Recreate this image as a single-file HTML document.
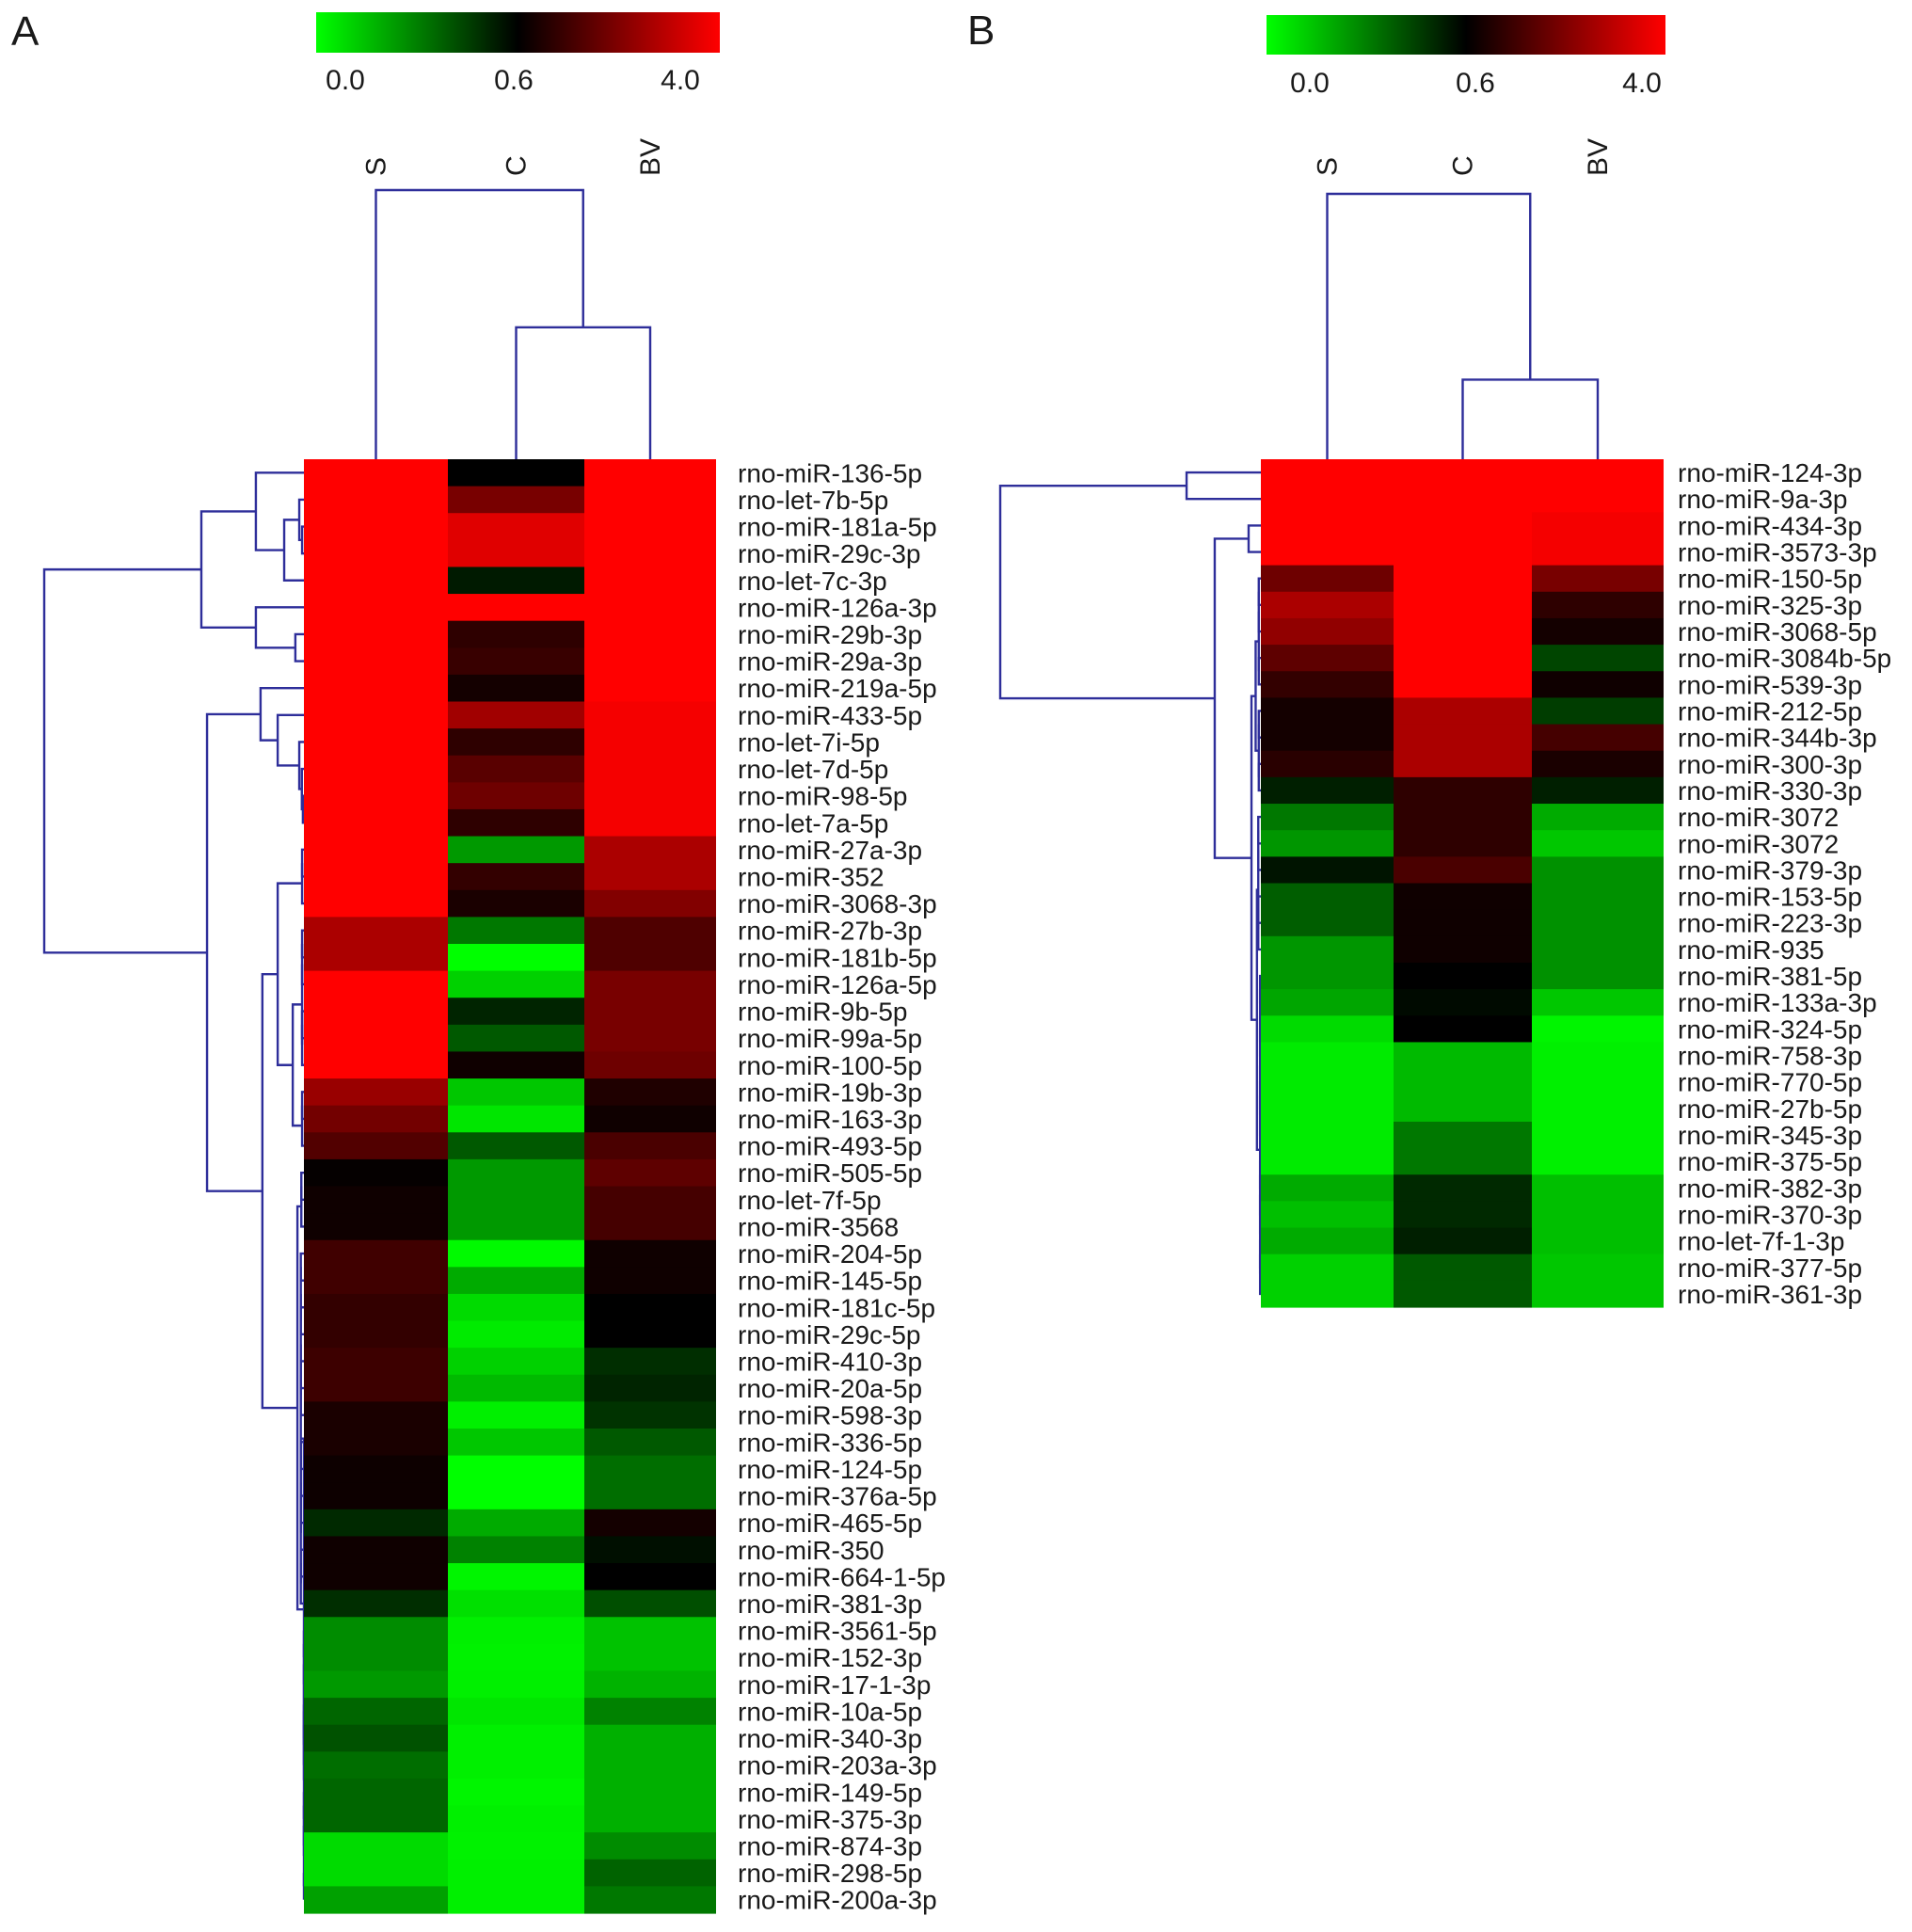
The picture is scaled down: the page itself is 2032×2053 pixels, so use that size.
<!DOCTYPE html>
<html><head><meta charset="utf-8">
<style>
html,body{margin:0;padding:0;background:#fff;}
svg{display:block;}
text{font-family:"Liberation Sans",Arial,sans-serif;fill:#1a1a1a;}
</style></head>
<body>
<svg id="fig" width="2032" height="2053" viewBox="0 0 2032 2053" xmlns="http://www.w3.org/2000/svg">
<defs>
<linearGradient id="cb" x1="0" x2="1" y1="0" y2="0">
<stop offset="0" stop-color="#00ff00"/><stop offset="0.5" stop-color="#000000"/><stop offset="1" stop-color="#ff0000"/>
</linearGradient>
</defs>
<g>
<text x="12" y="48" font-size="44">A</text>
<rect x="336" y="13" width="429" height="43" fill="url(#cb)"/>
<text x="367" y="95" font-size="30" text-anchor="middle">0.0</text>
<text x="546" y="95" font-size="30" text-anchor="middle">0.6</text>
<text x="723" y="95" font-size="30" text-anchor="middle">4.0</text>
<g id="gA"></g>
</g>
<g>
<text x="1028" y="47" font-size="44">B</text>
<rect x="1346" y="16" width="424" height="42" fill="url(#cb)"/>
<text x="1392" y="98" font-size="30" text-anchor="middle">0.0</text>
<text x="1568" y="98" font-size="30" text-anchor="middle">0.6</text>
<text x="1745" y="98" font-size="30" text-anchor="middle">4.0</text>
<g id="gB"></g>
</g>
</svg>
<script>
// ---- data (color-scale position: -1 green, 0 black, 1 red) ----
const columns = ["S","C","BV"];
const rowsA = ["rno-miR-136-5p","rno-let-7b-5p","rno-miR-181a-5p","rno-miR-29c-3p","rno-let-7c-3p","rno-miR-126a-3p","rno-miR-29b-3p","rno-miR-29a-3p","rno-miR-219a-5p","rno-miR-433-5p","rno-let-7i-5p","rno-let-7d-5p","rno-miR-98-5p","rno-let-7a-5p","rno-miR-27a-3p","rno-miR-352","rno-miR-3068-3p","rno-miR-27b-3p","rno-miR-181b-5p","rno-miR-126a-5p","rno-miR-9b-5p","rno-miR-99a-5p","rno-miR-100-5p","rno-miR-19b-3p","rno-miR-163-3p","rno-miR-493-5p","rno-miR-505-5p","rno-let-7f-5p","rno-miR-3568","rno-miR-204-5p","rno-miR-145-5p","rno-miR-181c-5p","rno-miR-29c-5p","rno-miR-410-3p","rno-miR-20a-5p","rno-miR-598-3p","rno-miR-336-5p","rno-miR-124-5p","rno-miR-376a-5p","rno-miR-465-5p","rno-miR-350","rno-miR-664-1-5p","rno-miR-381-3p","rno-miR-3561-5p","rno-miR-152-3p","rno-miR-17-1-3p","rno-miR-10a-5p","rno-miR-340-3p","rno-miR-203a-3p","rno-miR-149-5p","rno-miR-375-3p","rno-miR-874-3p","rno-miR-298-5p","rno-miR-200a-3p"];
const aS = [1,1,1,1,1,1,1,1,1,1,1,1,1,1,1,1,1,0.67,0.67,1,1,1,1,0.6,0.45,0.32,0.02,0.06,0.06,0.25,0.25,0.2,0.2,0.24,0.24,0.1,0.1,0.05,0.05,-0.16,0.06,0.06,-0.18,-0.55,-0.55,-0.6,-0.4,-0.32,-0.43,-0.4,-0.4,-0.86,-0.86,-0.63];
const aC = [0,0.47,0.88,0.88,-0.1,1,0.18,0.22,0.08,0.63,0.18,0.35,0.43,0.18,-0.6,0.2,0.1,-0.47,-1,-0.82,-0.14,-0.35,0.06,-0.78,-0.9,-0.35,-0.6,-0.6,-0.6,-0.98,-0.67,-0.86,-0.92,-0.82,-0.73,-0.94,-0.78,-1,-1,-0.67,-0.51,-0.96,-0.88,-0.94,-0.95,-0.94,-0.9,-0.94,-0.94,-0.96,-0.94,-0.95,-0.94,-0.94];
const aBV = [1,1,1,1,1,1,1,1,1,0.96,0.96,0.96,0.96,0.96,0.67,0.67,0.51,0.31,0.31,0.47,0.47,0.47,0.43,0.12,0.06,0.29,0.37,0.27,0.27,0.06,0.06,0,0,-0.18,-0.14,-0.2,-0.35,-0.43,-0.43,0.08,-0.06,0,-0.31,-0.76,-0.76,-0.7,-0.51,-0.69,-0.69,-0.69,-0.69,-0.55,-0.39,-0.47];
const rowsB = ["rno-miR-124-3p","rno-miR-9a-3p","rno-miR-434-3p","rno-miR-3573-3p","rno-miR-150-5p","rno-miR-325-3p","rno-miR-3068-5p","rno-miR-3084b-5p","rno-miR-539-3p","rno-miR-212-5p","rno-miR-344b-3p","rno-miR-300-3p","rno-miR-330-3p","rno-miR-3072","rno-miR-3072","rno-miR-379-3p","rno-miR-153-5p","rno-miR-223-3p","rno-miR-935","rno-miR-381-5p","rno-miR-133a-3p","rno-miR-324-5p","rno-miR-758-3p","rno-miR-770-5p","rno-miR-27b-5p","rno-miR-345-3p","rno-miR-375-5p","rno-miR-382-3p","rno-miR-370-3p","rno-let-7f-1-3p","rno-miR-377-5p","rno-miR-361-3p"];
const bS = [1,1,1,1,0.43,0.67,0.57,0.37,0.2,0.08,0.08,0.16,-0.12,-0.47,-0.59,-0.08,-0.37,-0.37,-0.59,-0.59,-0.65,-0.86,-0.92,-0.92,-0.92,-0.92,-0.92,-0.67,-0.75,-0.67,-0.82,-0.82];
const bC = [1,1,1,1,1,1,1,1,1,0.67,0.67,0.67,0.18,0.18,0.18,0.29,0.06,0.06,0.06,0,-0.04,0,-0.73,-0.73,-0.73,-0.47,-0.47,-0.16,-0.16,-0.12,-0.35,-0.35];
const bBV = [1,1,0.96,0.96,0.47,0.18,0.08,-0.27,0.06,-0.24,0.27,0.1,-0.12,-0.67,-0.78,-0.57,-0.57,-0.57,-0.57,-0.57,-0.78,-0.96,-0.94,-0.94,-0.94,-0.94,-0.94,-0.75,-0.75,-0.75,-0.78,-0.78];
// dendrogram merge heights (fraction of root height); nodes: [height, left, right]
function grp(lo, hi, h) { if (lo === hi) return lo; const m = Math.floor((lo + hi) / 2); return [h, grp(lo, m, h), grp(m + 1, hi, h)]; }
const rowTreeA = [1,
  [0.395, [0.185, 0, [0.076, [0.018, 1, [0.007, 2, 3]], 4]], [0.185, 5, [0.033, 6, 7]]],
  [0.373, [0.167, 8, [0.101, 9, [0.018, 10, [0.008, 11, [0.004, 12, 13]]]]],
    [0.16, [0.101, grp(14, 16, 0.007), [0.043, grp(17, 22, 0.007), grp(23, 25, 0.007)]],
      [0.025, grp(26, 28, 0.01), [0, grp(29, 42, 0.012), grp(43, 53, 0)]]]]];
const rowTreeB = [1, [0.285, 0, 1], [0.177, [0.047, 2, 3], [0.036, [0.02, grp(4, 8, 0.008), grp(9, 12, 0.008)], [0.015, grp(13, 18, 0.01), grp(19, 31, 0.003)]]]];
const colTreeA = [1, 0, [0.49, 1, 2]];
const colTreeB = [1, 0, [0.30, 1, 2]];

const NS = "http://www.w3.org/2000/svg";
function el(parent, tag, attrs) { const e = document.createElementNS(NS, tag); for (const k in attrs) e.setAttribute(k, attrs[k]); parent.appendChild(e); return e; }
function color(t) { const v = Math.round(255 * Math.min(1, Math.abs(t))); return t >= 0 ? `rgb(${v},0,0)` : `rgb(0,${v},0)`; }
const LINE = "#2e2e9a";

function panel(gid, o) {
  const g = document.getElementById(gid);
  const n = o.rows.length;
  const rh = (o.bottom - o.top) / n;
  const yRow = i => o.top + rh * (i + 0.5);
  const xCol = j => o.colX[j] + (o.colX[j + 1] - o.colX[j]) / 2;
  // row dendrogram (drawn first so the heatmap covers zero-height joins)
  const dg = el(g, "g", { stroke: LINE, "stroke-width": 2.4, fill: "none" });
  
  
  const xD = d => o.colX[0] - d * o.rowScale;
  function drawRow(node) {
    if (typeof node === "number") return { y: yRow(node), x: o.colX[0] };
    const a = drawRow(node[1]), b = drawRow(node[2]);
    const x = xD(node[0]);
    el(dg, "path", { d: `M${a.x},${a.y}H${x}V${b.y}H${b.x}` });
    return { y: (a.y + b.y) / 2, x: x };
  }
  drawRow(o.rowTree);
  const series = [o.s, o.c, o.bv];
  series.forEach((arr, j) => {
    arr.forEach((v, i) => {
      const r = el(g, "rect", { x: o.colX[j], y: (o.top + rh * i).toFixed(2), width: o.colX[j + 1] - o.colX[j], height: (rh + 0.6).toFixed(2), fill: color(v) });
      
      
    });
  });
  o.rows.forEach((name, i) => {
    const t = el(g, "text", { x: o.labelX, y: (yRow(i) + 10).toFixed(1), "font-size": 28 });
    t.textContent = name;
    
    
  });
  columns.forEach((c, j) => {
    const x = xCol(j) + 10;
    const t = el(g, "text", { x: x, y: o.colLabelY, "font-size": 30, transform: `rotate(-90 ${x} ${o.colLabelY})` });
    t.textContent = c;
    
    
  });
  // column dendrogram
  const cg = el(g, "g", { stroke: LINE, "stroke-width": 2.4, fill: "none" });
  
  
  const yD = d => o.top - d * o.colScale;
  function drawCol(node) {
    if (typeof node === "number") return { x: xCol(node), y: o.top };
    const a = drawCol(node[1]), b = drawCol(node[2]);
    const y = yD(node[0]);
    el(cg, "path", { d: `M${a.x},${a.y}V${y}H${b.x}V${b.y}` });
    return { x: (a.x + b.x) / 2, y: y };
  }
  drawCol(o.colTree);
}

panel("gA", { rows: rowsA, s: aS, c: aC, bv: aBV, top: 488, bottom: 2033, colX: [323, 476, 621, 761],
  labelX: 784, colLabelY: 187, rowTree: rowTreeA, rowScale: 276, colTree: colTreeA, colScale: 286 });
panel("gB", { rows: rowsB, s: bS, c: bC, bv: bBV, top: 488, bottom: 1389, colX: [1340, 1481, 1628, 1768],
  labelX: 1783, colLabelY: 187, rowTree: rowTreeB, rowScale: 277, colTree: colTreeB, colScale: 282 });
</script>
</body></html>
